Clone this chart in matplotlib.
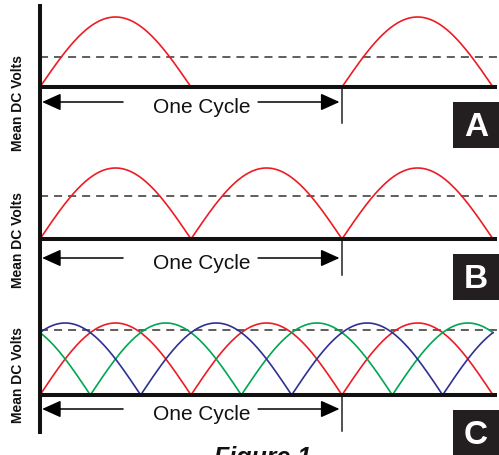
import numpy as np
import matplotlib
matplotlib.use('Agg')
import matplotlib.pyplot as plt
from matplotlib.lines import Line2D

plt.rcParams['font.family'] = ['Liberation Sans', 'DejaVu Sans']
plt.rcParams['lines.scale_dashes'] = False

# waveform data: angle in degrees, three half cycles of the mains
angle_deg = np.linspace(0, 540, 1081)
cycle_deg = 360
panel_labels = ['A', 'B', 'C']
mean_dc = [0.43, 0.61, 0.90]          # dashed mean level, fraction of peak
phase_shift = [0, 60, 120]            # three phase rectifier (panel C)
phase_colors = ['#ed1c24', '#00a651', '#2e3192']
red = '#ed1c24'

# layout in pixels (figure is 499 x 456)
W, H = 499, 456
x0_px, x540_px = 40, 493
panels_px = [(0, 152), (152, 304), (304, 456)]   # top, bottom of each panel
baseline_px = [88, 240, 396]
amp_px = [70, 71, 72]
arrow_off_px = [15, 19, 14]
ylabel_px = [103, 240, 375]

px_per_deg = (x540_px - x0_px) / 540.0
xlim = (-x0_px / px_per_deg, (W - x0_px) / px_per_deg)

fig = plt.figure(figsize=(W / 100, H / 100), dpi=100)


def half_wave(a):
    v = np.sin(np.radians(a))
    return np.where(v >= 0, v, np.nan)


def full_wave(a, shift=0):
    return np.abs(np.sin(np.radians(a - shift)))


for i, lab in enumerate(panel_labels):
    top, bot = panels_px[i]
    ax = fig.add_axes([0, 1 - bot / H, 1, (bot - top) / H])
    amp = amp_px[i]
    ax.set_xlim(*xlim)
    ax.set_ylim(-(bot - baseline_px[i]) / amp, (baseline_px[i] - top) / amp)
    ax.axis('off')

    # waveforms
    if i == 0:
        ax.plot(angle_deg, half_wave(angle_deg), color=red, lw=1.2, zorder=3)
    elif i == 1:
        ax.plot(angle_deg, full_wave(angle_deg), color=red, lw=1.2, zorder=3)
    else:
        for s, c in zip(phase_shift, phase_colors):
            ax.plot(angle_deg, full_wave(angle_deg, s), color=c, lw=1.2, zorder=3)

    # mean dc level
    ax.plot([0, xlim[1]], [mean_dc[i], mean_dc[i]], color='#333333', lw=1.1,
            linestyle=(0, (5.8, 4.3)), zorder=2)

    # baseline
    ax.plot([0, 545], [0, 0], color='#111111', lw=2.9, solid_capstyle='butt', zorder=4)

    # one cycle arrows
    ya = -arrow_off_px[i] / amp
    ap = dict(arrowstyle='-|>,head_length=11.5,head_width=5.2', color='black',
              lw=1.1, mutation_scale=1, shrinkA=0, shrinkB=0)
    ax.annotate('', xy=(2.5, ya), xytext=(99, ya), arrowprops=ap)
    ax.annotate('', xy=(357, ya), xytext=(260, ya), arrowprops=ap)
    ax.text(193, ya - 10.5 / amp, 'One Cycle', fontsize=15, ha='center',
            va='baseline', color='#111111')
    ax.plot([cycle_deg, cycle_deg], [0, -36 / amp], color='#222222', lw=1.1)

    # y label
    fig.text(18 / W, 1 - ylabel_px[i] / H, 'Mean DC Volts', rotation=90,
             fontsize=10, fontweight='bold', ha='center', va='center',
             color='#111111')

    # panel letter box
    box_top = baseline_px[i] + 15
    bx = fig.add_axes([453 / W, 1 - (box_top + 46) / H, 46 / W, 46 / H])
    bx.set_facecolor('#231f20')
    bx.set_xticks([])
    bx.set_yticks([])
    for sp in bx.spines.values():
        sp.set_visible(False)
    bx.text(0.5, 0.47, lab, color='white', fontsize=24, fontweight='bold',
            ha='center', va='center', transform=bx.transAxes)

# vertical axis line
fig.add_artist(Line2D([x0_px / W, x0_px / W], [1 - 5 / H, 1 - 435 / H],
                      transform=fig.transFigure, color='#111111', lw=2.9,
                      solid_capstyle='butt'))

# caption, cut off at the bottom edge as in the original
fig.text(263 / W, 1 - 465 / H, 'Figure 1', fontsize=18, fontweight='bold',
         fontstyle='italic', ha='center', va='baseline', color='#111111')

fig.savefig('out.png', dpi=100)
